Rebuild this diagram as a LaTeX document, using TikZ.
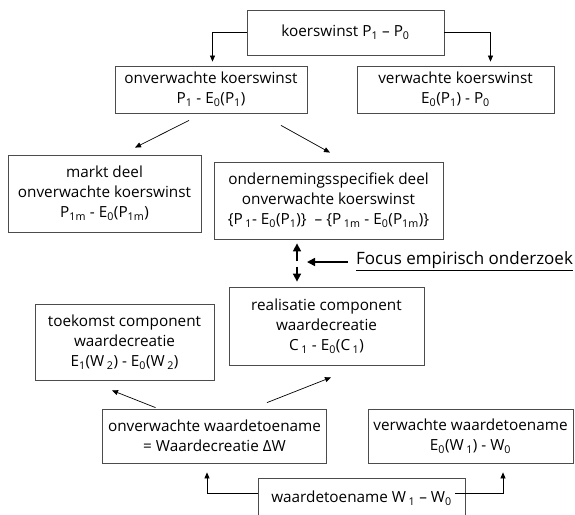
\documentclass[tikz,border=0pt]{standalone}
\usepackage{fontspec}
\setmainfont{Open Sans}
\usetikzlibrary{calc,arrows.meta}
\newcommand{\sub}[1]{\textsubscript{#1}}
\begin{document}
\begin{tikzpicture}[x=1pt,y=-1pt,
 box/.style={draw=black!70, line width=0.8pt, align=center, inner sep=0pt, font=\fontsize{15.3}{20}\selectfont},
 arr/.style={line width=0.7pt, -{Triangle[length=6pt,width=5pt]}},
 thickarr/.style={line width=1.6pt, -{Triangle[length=8pt,width=8pt]}}]
\useasboundingbox (0,0) rectangle (575,514);
\clip (0,0) rectangle (575,514);
\fill[white] (0,0) rectangle (575,514);
% boxes
\node[box, minimum width=197pt, minimum height=45pt] (top) at (345.5,32.5) {koerswinst P\sub{1} – P\sub{0}};
\node[box, minimum width=192pt, minimum height=47pt] (ok) at (211,89.5) {onverwachte koerswinst\\P\sub{1} - E\sub{0}(P\sub{1})};
\node[box, minimum width=197pt, minimum height=47pt] (vk) at (455.5,89.5) {verwachte koerswinst\\E\sub{0}(P\sub{1}) - P\sub{0}};
\node[box, minimum width=193pt, minimum height=77pt] (markt) at (104.5,193.5) {markt deel\\onverwachte koerswinst\\P\sub{1m} - E\sub{0}(P\sub{1m})};
\node[box, minimum width=229pt, minimum height=77pt] (ond) at (328.5,200.5) {ondernemingsspecifiek deel\\onverwachte koerswinst\\\{P\,\sub{1}- E\sub{0}(P\sub{1})\}\ \ – \{P\,\sub{1m} - E\sub{0}(P\sub{1m})\}};
\node[box, minimum width=195pt, minimum height=78pt] (real) at (326.5,326) {realisatie component\\waardecreatie\\C\,\sub{1} - E\sub{0}(C\,\sub{1})};
\node[box, minimum width=179pt, minimum height=76pt] (toek) at (124.5,342) {toekomst component\\waardecreatie\\E\sub{1}(W\,\sub{2}) - E\sub{0}(W\,\sub{2})};
\node[box, minimum width=224pt, minimum height=54pt] (ow) at (214.5,436) {onverwachte waardetoename\\= Waardecreatie ΔW};
\node[box, minimum width=205pt, minimum height=54pt] (vw) at (470.5,436) {verwachte waardetoename\\E\sub{0}(W\,\sub{1}) - W\sub{0}};
\node[box, minimum width=207pt, minimum height=40pt] (wt) at (361.5,498) {waardetoename\ W\,\sub{1} – W\sub{0}};
\node[anchor=west, inner sep=0pt, font=\fontsize{17}{20}\selectfont] (focus) at (356,261) {\underline{Focus empirisch onderzoek}};
% connectors top
\draw[arr, shorten >=4pt] (top.west) -| ($(ok.north)+(1.5,0)$);
\draw[arr, shorten >=4pt] (top.east) -| ($(vk.north)+(35,0)$);
\draw[arr] ($(ok.south)+(-22,7)$) -- ($(markt.north)+(30.5,-7)$);
\draw[arr] ($(ok.south)+(70,12)$) -- ($(ond.north)+(1.5,-9)$);
% double arrow and focus
\coordinate (ua) at ($(ond.south)+(-31.5,22)$);
\coordinate (ub) at ($(ond.south)+(-31.5,4)$);
\coordinate (da) at ($(real.north)+(-29.5,-20)$);
\coordinate (db) at ($(real.north)+(-29.5,-5)$);
\draw[thickarr] (ua) -- (ub);
\draw[thickarr] (da) -- (db);
\coordinate (fa) at ($(focus.west)+(-8,1)$);
\coordinate (fb) at ($(focus.west)+(-49,1)$);
\draw[thickarr] (fa) -- (fb);
% lower connectors
\draw[arr] ($(ow.north)+(-59,-1)$) -- ($(toek.south)+(-12.5,10)$);
\draw[arr] ($(ow.north)+(52.5,-6)$) -- ($(real.south)+(4.5,12)$);
\draw[arr, shorten >=9pt] ($(wt.west)+(0,-5)$) -| ($(ow.south)+(-7.5,0)$);
\draw[arr, shorten >=9pt] ($(wt.east)+(-10,-5)$) -| ($(vw.south)+(32.5,0)$);
\end{tikzpicture}
\end{document}
